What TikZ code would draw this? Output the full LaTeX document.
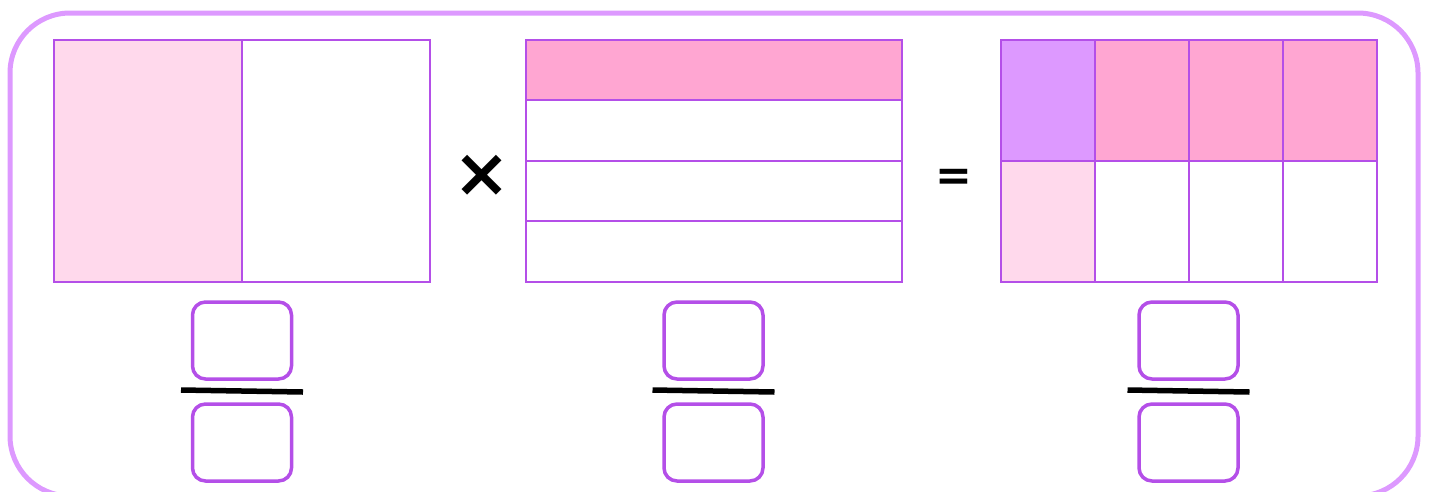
\documentclass[tikz,border=0pt]{standalone}
\usepackage{fontspec}
\usepackage{tikz}
\usetikzlibrary{scopes}
\usetikzlibrary{calc}
\newfontfamily\symfont{DejaVu Sans}
\definecolor{framepurple}{HTML}{DD99FF}
\definecolor{gridpurple}{HTML}{B44FE8}
\definecolor{lightpink}{HTML}{FFD9EC}
\definecolor{midpink}{HTML}{FFA6D2}
\definecolor{lavender}{HTML}{DD99FF}

\begin{document}
\begin{tikzpicture}[x=1pt,y=-1pt,
        fracbox/.style={draw=gridpurple,line width=3.5pt,rounded corners=13pt,
            minimum width=99pt,minimum height=77pt,inner sep=0pt},
        fracbar/.style={line width=5.5pt,black}]
        \useasboundingbox (0,0) rectangle (1431,491);

        \draw[framepurple,line width=5pt,rounded corners=60pt] (10,13) rectangle (1418,496);

        \begin{scope}[gridpurple,line width=2pt]
            % one half
            \fill[lightpink] (54,40) rectangle (242,282);
            \draw (54,40) rectangle (430,282);
            \draw (242,40) -- (242,282);

            % one quarter
            \fill[midpink] (526,40) rectangle (902,100);
            \draw (526,40) rectangle (902,282);
            \foreach \y in {100,161,221}
                \draw (526,\y) -- (902,\y);

            % product
            \fill[lavender] (1001,40) rectangle (1095,161);
            \fill[midpink] (1095,40) rectangle (1377,161);
            \fill[lightpink] (1001,161) rectangle (1095,282);
            \draw (1001,40) rectangle (1377,282);
            \foreach \x in {1095,1189,1283}
                \draw (\x,40) -- (\x,282);
            \draw (1001,161) -- (1377,161);
        \end{scope}

        \node[font=\symfont\bfseries\fontsize{68}{68}\selectfont,inner sep=0pt] (times) at (482,176) {×};
        \node[font=\symfont\bfseries\fontsize{44}{44}\selectfont,inner sep=0pt] (equals) at (954,179.5) {=};

        \foreach \cx/\nm in {242/L,713.5/M,1188.5/R}{
            \node[fracbox] (num\nm) at (\cx,340.5) {};
            \node[fracbox] (den\nm) at (\cx,442.5) {};
            \draw[fracbar] (\cx-61,390) -- (\cx+61,392);
        }
    \end{tikzpicture}
\end{document}
